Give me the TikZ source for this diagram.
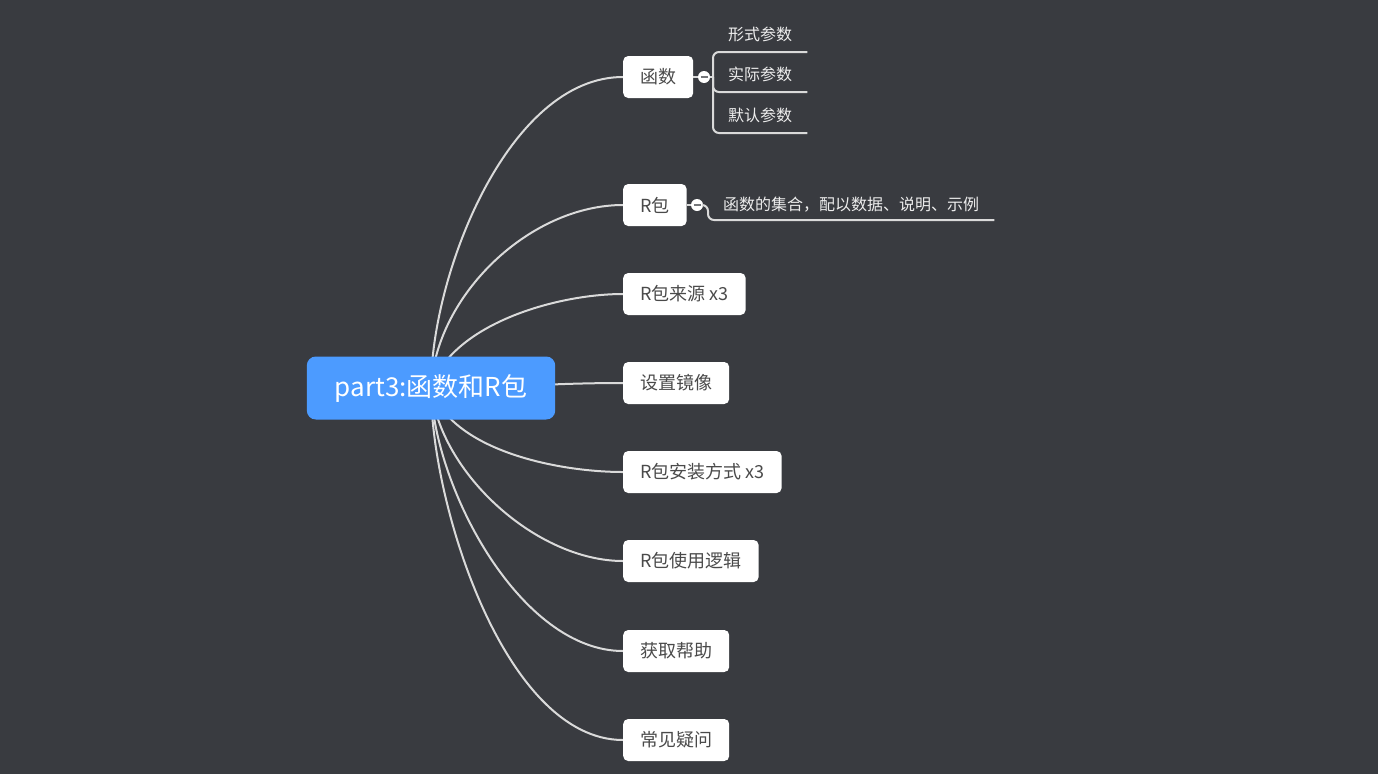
\documentclass[tikz,border=0pt]{standalone}
\usepackage{fontspec}
\usetikzlibrary{positioning, backgrounds}
\newfontfamily\cjkfont{Noto Sans CJK SC}
\definecolor{mapBg}{HTML}{393B40}
\definecolor{mapBlue}{HTML}{4C9BFF}
\definecolor{mapText}{HTML}{4A4A4A}
\definecolor{mapLine}{HTML}{DADADA}
\definecolor{mapSub}{HTML}{EDEDED}

\tikzset{
  root/.style={fill=mapBlue, text=white, rounded corners=9, minimum height=63,
    inner xsep=28, font=\cjkfont\fontsize{26}{30}\selectfont},
  topic/.style={fill=white, text=mapText, rounded corners=5, minimum height=42,
    inner xsep=17, anchor=west, font=\cjkfont\fontsize{18}{21}\selectfont},
  subtopic/.style={text=mapSub, inner xsep=15, anchor=south west,
    font=\cjkfont\fontsize{16}{19}\selectfont},
  branch/.style={draw=mapLine, line width=2},
  fold/.style={circle, fill=white, minimum size=12, inner sep=0,
    path picture={\draw[mapBg!70!white, line width=1.8]
      ([xshift=-3.5]path picture bounding box.center) --
      ([xshift=3.5]path picture bounding box.center);}}
}

\begin{document}
\begin{tikzpicture}[x=1pt, y=-1pt]
  \useasboundingbox (0,0) rectangle (1378,774);
  \begin{scope}[on background layer]
    \fill[mapBg] (0,0) rectangle (1378,774);
  \end{scope}

  \node[root] (root) at (431,388) {part3:函数和R包};

  \node[topic] (fn) at (623,77) {函数};
  \node[topic] (pkg) at (623,205) {R包};
  \node[topic] (src) at (623,294) {R包来源 x3};
  \node[topic] (mirror) at (623,383) {设置镜像};
  \node[topic] (install) at (623,472) {R包安装方式 x3};
  \node[topic] (logic) at (623,561) {R包使用逻辑};
  \node[topic] (help) at (623,651) {获取帮助};
  \node[topic] (faq) at (623,740) {常见疑问};

  % 函数 -> 参数
  \node[fold] (fndot) at (704,77) {};
  \coordinate (fnfork) at (713,77);
  \node[subtopic, minimum height=34] (formalarg) at (713,52) {形式参数};
  \node[subtopic, minimum height=34] (actualarg) at (713,92) {实际参数};
  \node[subtopic, minimum height=34] (defaultarg) at (713,133) {默认参数};
  \draw[branch] (fn.east) -- (fndot);
  \draw[branch] (fndot) -- (fnfork);
  \foreach \arg in {formalarg, actualarg, defaultarg}
    \draw[branch, rounded corners=6] (fnfork) |- (\arg.south east);

  % R包 -> 说明
  \node[fold] (pkgdot) at (697,205) {};
  \coordinate (pkgfork) at (708,205);
  \node[subtopic, minimum height=30] (pkgnote) at (708,220) {函数的集合，配以数据、说明、示例};
  \draw[branch] (pkg.east) -- (pkgdot);
  \draw[branch, rounded corners=6] (pkgdot) -- (pkgfork) |- (pkgnote.south east);

  % main branches, behind the root
  \begin{scope}[on background layer]
    \draw[branch] (root.center) to[out=90, in=180, looseness=0.8] (fn.west);
    \draw[branch] (root.center) to[out=87, in=180, looseness=0.9] (pkg.west);
    \draw[branch] (root.center) to[out=72, in=180, looseness=0.8] (src.west);
    \draw[branch] (root.center) to[out=0, in=180] (mirror.west);
    \draw[branch] (root.center) to[out=-72, in=180, looseness=0.8] (install.west);
    \draw[branch] (root.center) to[out=-84, in=180, looseness=0.85] (logic.west);
    \draw[branch] (root.center) to[out=-88, in=180, looseness=0.8] (help.west);
    \draw[branch] (root.center) to[out=-90, in=180, looseness=0.75] (faq.west);
  \end{scope}
\end{tikzpicture}
\end{document}
